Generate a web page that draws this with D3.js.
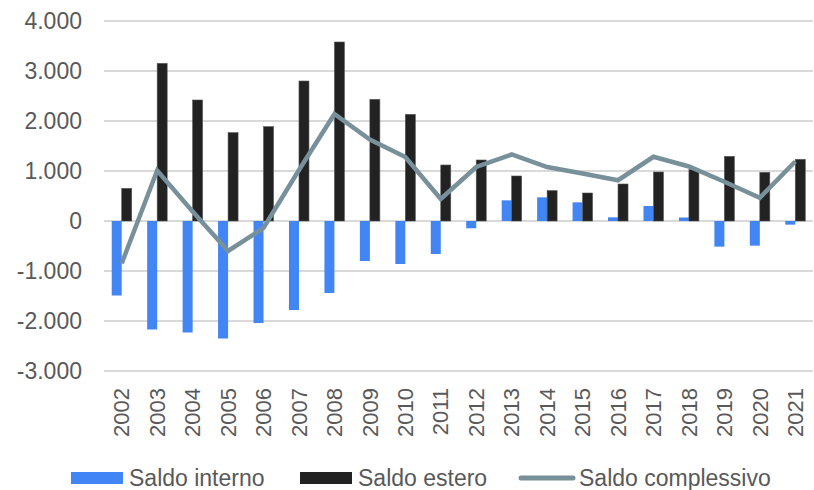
<!DOCTYPE html>
<meta charset="utf-8">
<style>
body { margin: 0; background: #fff; }
text { font-family: "Liberation Sans", Arial, sans-serif; fill: #595959; }
</style>
<head>
<script src="https://cdn.jsdelivr.net/npm/d3@7"></script>
</head>
<html>
<body>
<script>
var years = ["2002","2003","2004","2005","2006","2007","2008","2009","2010","2011",
             "2012","2013","2014","2015","2016","2017","2018","2019","2020","2021"];
var saldoInterno = [-1490,-2170,-2230,-2350,-2040,-1780,-1440,-800,-860,-660,
                    -146,413,473,373,73,300,70,-513,-493,-73];
var saldoEstero = [653,3153,2420,1767,1887,2800,3580,2433,2133,1120,
                   1220,900,607,560,740,980,1030,1293,973,1233];
var saldoComplessivo = [-847,1010,190,-600,-140,1020,2140,1630,1280,440,
                        1080,1330,1080,950,815,1285,1090,785,465,1190];
var yTicks = [-3000,-2000,-1000,0,1000,2000,3000,4000];
var seriesNames = ["Saldo interno","Saldo estero","Saldo complessivo"];

var width = 814, height = 490;
var plotLeft = 104, plotRight = 813, plotTop = 21, plotBottom = 371;

var colBlue = "#4285f4", colBlack = "#222222", colLine = "#78909a";

var it = d3.formatLocale({decimal: ",", thousands: ".", grouping: [3], currency: ["", "€"], minus: "-"});
var fmt = it.format(",.0f");

var svg = d3.select("body").append("svg")
    .attr("width", width)
    .attr("height", height);

var x = d3.scaleBand()
    .domain(years)
    .range([plotLeft, plotRight])
    .paddingInner(0.436)
    .paddingOuter(0.218);

var xSub = d3.scaleBand()
    .domain(["interno", "estero"])
    .range([0, x.bandwidth()]);

var y = d3.scaleLinear()
    .domain([-3000, 4000])
    .range([plotBottom, plotTop]);

// gridlines
svg.append("g")
  .selectAll("line")
  .data(yTicks)
  .enter().append("line")
    .attr("x1", plotLeft)
    .attr("x2", plotRight)
    .attr("y1", function(d) { return y(d); })
    .attr("y2", function(d) { return y(d); })
    .attr("stroke", "#d9d9d9")
    .attr("stroke-width", 2);

// y axis labels
var yAxis = d3.axisLeft(y).tickValues(yTicks).tickFormat(fmt).tickSize(0).tickPadding(0);
svg.append("g")
    .attr("transform", "translate(82,0)")
    .call(yAxis)
    .call(function(g) { g.select(".domain").remove(); })
    .selectAll("text")
    .style("font-size", "23px")
    .attr("fill", "#595959");

// bars
var groups = svg.append("g")
  .selectAll("g")
  .data(years)
  .enter().append("g")
    .attr("transform", function(d) { return "translate(" + x(d) + ",0)"; });

groups.append("rect")
    .attr("x", xSub("interno"))
    .attr("width", xSub.bandwidth())
    .attr("y", function(d, i) { return y(Math.max(0, saldoInterno[i])); })
    .attr("height", function(d, i) { return Math.abs(y(saldoInterno[i]) - y(0)); })
    .attr("fill", colBlue);

groups.append("rect")
    .attr("x", xSub("estero"))
    .attr("width", xSub.bandwidth())
    .attr("y", function(d, i) { return y(Math.max(0, saldoEstero[i])); })
    .attr("height", function(d, i) { return Math.abs(y(saldoEstero[i]) - y(0)); })
    .attr("fill", colBlack)
    .attr("stroke", "#555")
    .attr("stroke-width", 0.6);

// line
var line = d3.line()
    .x(function(d, i) { return x(years[i]) + x.bandwidth() / 2; })
    .y(function(d) { return y(d); });

svg.append("path")
    .datum(saldoComplessivo)
    .attr("d", line)
    .attr("fill", "none")
    .attr("stroke", colLine)
    .attr("stroke-width", 4.5);

// x labels, rotated
var xAxis = d3.axisBottom(x).tickSize(0).tickPadding(0);
svg.append("g")
    .attr("transform", "translate(0,388)")
    .call(xAxis)
    .call(function(g) { g.select(".domain").remove(); })
    .selectAll("text")
    .style("font-size", "22px")
    .attr("fill", "#595959")
    .attr("text-anchor", "end")
    .attr("transform", "rotate(-90)")
    .attr("x", 0)
    .attr("y", 0)
    .attr("dy", "0.35em");

// legend
var legend = svg.append("g");
var lx = [71, 300, 519];

legend.append("rect").attr("x", lx[0]).attr("y", 472).attr("width", 52).attr("height", 12).attr("fill", colBlue);
legend.append("rect").attr("x", lx[1]).attr("y", 472).attr("width", 52).attr("height", 12).attr("fill", colBlack);
legend.append("line")
    .attr("x1", lx[2] + 2).attr("x2", lx[2] + 54)
    .attr("y1", 478).attr("y2", 478)
    .attr("stroke", colLine).attr("stroke-width", 5).attr("stroke-linecap", "round");

legend.selectAll("text")
  .data(seriesNames)
  .enter().append("text")
    .attr("x", function(d, i) { return [129, 358, 579][i]; })
    .attr("y", 486)
    .style("font-size", "23px")
    .text(function(d) { return d; });
</script>
</body>
</html>
